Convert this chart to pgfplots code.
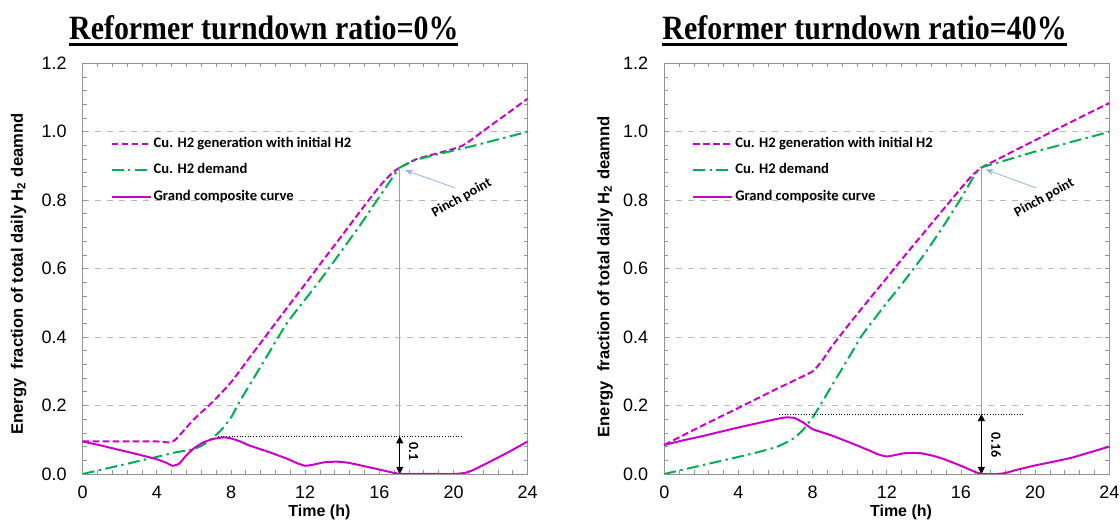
\documentclass[border=0pt]{standalone}
\usepackage{pgfplots}
\pgfplotsset{compat=1.18}
\usepackage{graphicx}
\usepackage{fontspec}
\setmainfont{Liberation Sans}
\newfontfamily\titlefont{Liberation Serif}
\newfontfamily\calibri{Carlito}
\usetikzlibrary{arrows.meta}

\definecolor{mag}{RGB}{204,0,204}
\definecolor{grn}{RGB}{0,176,80}
\definecolor{arrowblue}{RGB}{141,180,226}

\newcommand\ttl[1]{\scalebox{0.88}[1]{\setbox0\hbox{#1}\rlap{\rule[-3.2pt]{\wd0}{1.5pt}}\box0}}

\pgfplotsset{
  pinchaxis/.style={
    scale only axis, width=222.5pt, height=205.35pt,
    xmin=0, xmax=24, ymin=0, ymax=1.2,
    xtick={0,4,8,12,16,20,24},
    ytick={0,0.2,0.4,0.6,0.8,1.0,1.2},
    minor x tick num=4, minor y tick num=4,
    tick align=inside, major tick length=2pt, minor tick length=2pt,
    axis line style={draw=gray!85},
    every tick/.style={gray!85, line width=0.4pt},
    ymajorgrids, major grid style={gray!55, dashed, line width=0.4pt},
    /pgf/number format/assume math mode=true,
    tick label style={font=\fontsize{9}{10}\selectfont},
    y tick label style={/pgf/number format/.cd, fixed, fixed zerofill, precision=1, /tikz/.cd, xshift=-4.5pt},
    x tick label style={yshift=-2.5pt},
    xlabel={Time (h)},
    xlabel style={font=\bfseries\fontsize{8}{9}\selectfont, at={(axis description cs:0.532,-0.0925)}, anchor=center},
    ylabel={Energy\ \ fraction of total daily H\textsubscript{2} deamnd},
    ylabel style={font=\bfseries\fontsize{8.3}{9}\selectfont, anchor=center},
    title style={font=\titlefont\bfseries\fontsize{17}{20}\selectfont, anchor=center, yshift=0pt},
    legend style={at={(axis description cs:0.062,0.826)}, anchor=north west, draw=none, fill=none,
      font=\calibri\bfseries\fontsize{7.3}{8}\selectfont, row sep=4.6pt, inner sep=0pt,
      nodes={inner sep=1pt}},
    legend cell align=left,
    legend image code/.code={\draw[##1] (0pt,0pt) -- (19.5pt,0pt);},
  },
  genline/.style={color=mag, line width=1pt, dash pattern=on 3.4pt off 1.6pt},
  demline/.style={color=grn, line width=1pt, dash pattern=on 6pt off 2.2pt on 1.2pt off 2.2pt},
  gccline/.style={color=mag, line width=1pt, solid},
}

\begin{document}
\begin{tikzpicture}
\path[use as bounding box] (0,0) rectangle (560pt,261pt);

% ---------- turndown ratio 0%
\begin{axis}[pinchaxis, at={(41.35pt,24pt)}, anchor=south west,
  title={\ttl{Reformer turndown ratio=0\%}},
  title style={at={(axis description cs:0.407,1.051)}},
  ylabel style={at={(axis description cs:-0.144,0.487)}}]
\addplot[genline, smooth, tension=0.3] coordinates {
(0,0.095)(2,0.095)(4,0.095)(4.7,0.092)(5,0.1)(5.5,0.13)(6,0.16)(7,0.21)(8,0.268)
(9,0.34)(10,0.412)(11,0.484)(12,0.555)(13,0.627)(14,0.698)(15,0.77)(16,0.84)
(16.7,0.88)(17.1,0.895)(18,0.92)(19,0.935)(20,0.95)(20.5,0.96)(21,0.978)(22,1.018)
(23,1.057)(24,1.097)};
\addlegendentry{Cu. H2 generation with initial H2}
\addplot[demline, smooth, tension=0.3] coordinates {
(0,0)(2,0.025)(4,0.05)(5,0.063)(6,0.073)(6.5,0.085)(7,0.105)(7.5,0.13)(8,0.165)
(8.5,0.215)(9,0.26)(10,0.35)(11,0.44)(12,0.51)(13,0.58)(14,0.655)(15,0.73)(16,0.81)
(16.7,0.865)(17.1,0.895)(18,0.918)(19,0.932)(20,0.945)(21,0.958)(22,0.972)(23,0.986)(24,1.0)};
\addlegendentry{Cu. H2 demand}
\addplot[gccline, smooth, tension=0.3] coordinates {
(0,0.095)(1,0.083)(2,0.07)(3,0.057)(4,0.043)(4.5,0.033)(4.85,0.024)(5.2,0.03)(5.6,0.055)
(6,0.075)(6.5,0.092)(7,0.102)(7.6,0.107)(8,0.104)(8.5,0.095)(9,0.083)(10,0.065)(11,0.045)
(11.5,0.033)(12,0.024)(12.5,0.028)(13,0.034)(13.7,0.036)(14.3,0.033)(15,0.025)(16,0.013)
(16.8,0.003)(17.2,0)(18,0)(19,0)(20,0)(20.6,0.003)(21,0.01)(22,0.037)(23,0.065)(24,0.095)};
\addlegendentry{Grand composite curve}
\draw[gray!75, line width=0.35pt] (axis cs:17.1,0) -- (axis cs:17.1,0.895);
\draw[black, densely dotted, line width=0.35pt] (axis cs:7.3,0.11) -- (axis cs:20.5,0.11);
\draw[black, line width=0.5pt, {Triangle[length=3.5pt,width=3.5pt]}-{Triangle[length=3.5pt,width=3.5pt]}]
  (axis cs:17.1,0) -- (axis cs:17.1,0.11);
\node[rotate=-90, font=\calibri\bfseries\fontsize{7}{8}\selectfont] at (axis cs:17.85,0.065) {0.1};
\draw[arrowblue, line width=0.4pt, -{Stealth[length=4pt,width=3pt]}] (axis cs:20.08,0.836) -- (axis cs:17.38,0.888);
\node[rotate=29, font=\calibri\bfseries\fontsize{7}{8}\selectfont] at (axis cs:20.44,0.807) {Pinch point};
\end{axis}

% ---------- turndown ratio 40%
\begin{axis}[pinchaxis, at={(332.15pt,24pt)}, anchor=south west,
  title={\ttl{Reformer turndown ratio=40\%}},
  title style={at={(axis description cs:0.45,1.051)}},
  ylabel style={at={(axis description cs:-0.133,0.48)}}]
\addplot[genline, smooth, tension=0.3] coordinates {
(0,0.085)(2,0.14)(4,0.193)(6,0.247)(7,0.273)(8,0.3)(8.5,0.33)(9,0.37)(10,0.44)
(11,0.507)(12,0.573)(13,0.64)(14,0.705)(15,0.77)(16,0.835)(16.6,0.872)(17.1,0.895)
(18,0.92)(19,0.948)(20,0.975)(21,1.003)(22,1.03)(23,1.057)(24,1.084)};
\addlegendentry{Cu. H2 generation with initial H2}
\addplot[demline, smooth, tension=0.3] coordinates {
(0,0)(2,0.025)(4,0.05)(5,0.063)(6,0.078)(6.5,0.09)(7,0.105)(7.5,0.13)(8,0.165)
(8.4,0.2)(9,0.255)(10,0.345)(10.6,0.4)(11,0.43)(12,0.5)(13,0.568)(14,0.64)(15,0.72)(16,0.805)
(16.7,0.87)(17.1,0.895)(18,0.91)(19,0.926)(20,0.942)(21,0.956)(22,0.971)(23,0.985)(24,1.0)};
\addlegendentry{Cu. H2 demand}
\addplot[gccline, smooth, tension=0.3] coordinates {
(0,0.085)(1,0.098)(2,0.11)(3,0.123)(4,0.136)(5,0.148)(6,0.16)(6.5,0.165)(7,0.164)
(7.5,0.15)(8,0.131)(9,0.113)(10,0.092)(11,0.07)(11.5,0.058)(12,0.051)(12.5,0.056)
(13,0.061)(13.8,0.061)(14.5,0.053)(15,0.045)(16,0.024)(16.8,0.005)(17.2,0)(18,0)
(18.4,0.003)(19,0.012)(20,0.025)(21,0.036)(22,0.048)(23,0.064)(24,0.08)};
\addlegendentry{Grand composite curve}
\draw[gray!75, line width=0.35pt] (axis cs:17.1,0) -- (axis cs:17.1,0.895);
\draw[black, densely dotted, line width=0.35pt] (axis cs:6.2,0.175) -- (axis cs:19.45,0.175);
\draw[black, line width=0.5pt, {Triangle[length=3.5pt,width=3.5pt]}-{Triangle[length=3.5pt,width=3.5pt]}]
  (axis cs:17.1,0) -- (axis cs:17.1,0.175);
\node[rotate=-90, font=\calibri\bfseries\fontsize{7}{8}\selectfont] at (axis cs:17.9,0.085) {0.16};
\draw[arrowblue, line width=0.4pt, -{Stealth[length=4pt,width=3pt]}] (axis cs:20.03,0.836) -- (axis cs:17.33,0.89);
\node[rotate=29, font=\calibri\bfseries\fontsize{7}{8}\selectfont] at (axis cs:20.49,0.807) {Pinch point};
\end{axis}
\end{tikzpicture}
\end{document}
